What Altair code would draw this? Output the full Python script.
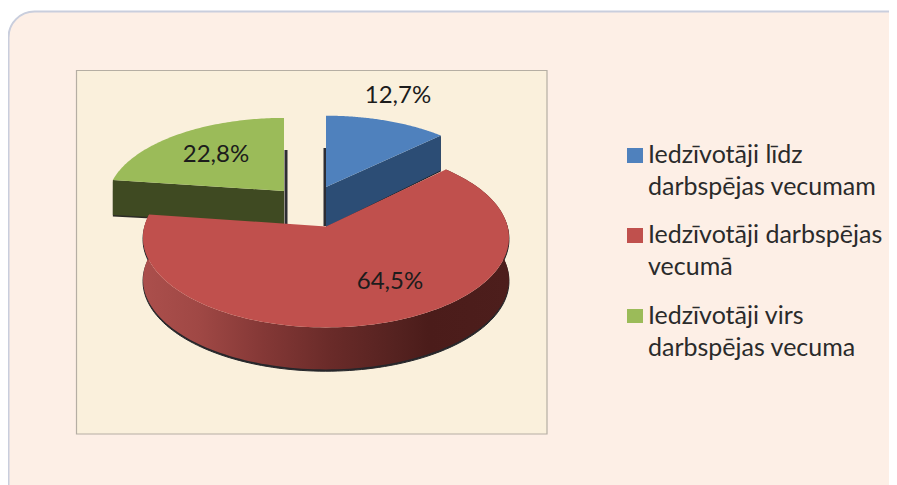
import math
import altair as alt
import pandas as pd

# ---- values ----
categories = ["Iedzīvotāji līdz darbspējas vecumam",
              "Iedzīvotāji darbspējas vecumā",
              "Iedzīvotāji virs darbspējas vecuma"]
shares = [12.7, 64.5, 22.8]
share_labels = ["12,7%", "64,5%", "22,8%"]
top_colors = ["#4f81bd", "#c0504d", "#9bbb59"]
wall_colors = ["#2c4d75", "#4a1c1a", "#3f4a22"]
legend_lines = [["Iedzīvotāji līdz", "darbspējas vecumam"],
                ["Iedzīvotāji darbspējas", "vecumā"],
                ["Iedzīvotāji virs", "darbspējas vecuma"]]

# ---- layout (page pixels) ----
W, H = 881, 477
X_DOM, Y_DOM = [8, 8 + W], [8, 8 + H]
K = 0.122                    # perspective strength of the tilted disc
# apex x, apex y, radius x, radius y, wall thickness
BLUE = (326, 187, 174, 80, 40)
RED = (326, 226.5, 181.6, 88.6, 42)
GREEN = (284, 191, 175.7, 82, 33)

x_s = alt.Scale(domain=X_DOM, range=[0, W])
y_s = alt.Scale(domain=Y_DOM, range=[0, H])
X = lambda f: alt.X(f, type="quantitative", scale=x_s, axis=None)
Y = lambda f: alt.Y(f, type="quantitative", scale=y_s, axis=None)


def rim(geo, a0, a1, n=90):
    ax, ay, rx, ry, _ = geo
    pts = []
    for i in range(n + 1):
        t = math.radians(a0 + (a1 - a0) * i / n)
        u, v = math.sin(t), math.cos(t)
        d = 1 + K * v
        pts.append((ax + rx * u / d, ay - ry * v / d))
    return pts


def poly(points, fill, stroke=None, sw=0):
    df = pd.DataFrame([{"i": i, "x": p[0], "y": p[1]} for i, p in enumerate(points + points[:1])])
    kw = dict(fill=fill, strokeWidth=sw, stroke=stroke if stroke else "transparent", clip=True)
    return alt.Chart(df).mark_line(**kw).encode(x=X("x"), y=Y("y"), order=alt.Order("i:Q"))


def box(x, x2, y, y2, fill, stroke=None, radius=0, sw=1):
    df = pd.DataFrame([{"x": x, "x2": x2, "y": y, "y2": y2}])
    kw = dict(fill=fill, clip=True, cornerRadius=radius)
    if stroke:
        kw.update(stroke=stroke, strokeWidth=sw)
    return alt.Chart(df).mark_rect(**kw).encode(x=X("x"), x2="x2:Q", y=Y("y"), y2="y2:Q")


def shift(pts, dx=0, dy=0):
    return [(p[0] + dx, p[1] + dy) for p in pts]


# slice angles, clockwise from twelve o'clock, from the shares
tot = sum(shares)
a = [0]
for s in shares:
    a.append(a[-1] + 360 * s / tot)

layers = [
    box(8.5, 920, 11.5, 510, "#fdefe6", "#c9cedd", 26, 2),
    box(76.5, 547, 70.5, 434, "#faf0dc", "#b5aea3", 0, 1.2),
]

# green slice
g_rim = rim(GREEN, a[2], a[3])
gx, gy, *_ , gt = GREEN
g_front = [g_rim[0], (gx, gy), (gx, gy + gt), shift(g_rim[:1], 0, gt + 2)[0]]
layers += [
    poly(shift(g_front, 0, 1.6), "#2b2b26"),
    box(284.5, 287.5, 150, 224, "#2d2d33"),
    poly(g_front, wall_colors[2]),
    poly(g_rim + [(gx, gy)], top_colors[2]),
]

# blue slice
b_rim = rim(BLUE, a[0], a[1])
bx, by, *_ , bt = BLUE
b_front = [(bx, by), b_rim[-1], shift(b_rim[-1:], 0, bt - 5)[0], (bx, by + bt)]
layers += [
    box(323.5, 326, 148, 226, "#2d2d33"),
    poly(shift(b_front, 0, 1.0), "#1f1f22"),
    poly(b_front, wall_colors[0]),
    poly(b_rim + [(bx, by)], top_colors[0]),
]

# red slice: wall with horizontal shading, then the top
r_rim = rim(RED, a[1], a[2], 140)
rx_, ry_, *_ , rt = RED
r_wall = r_rim + shift(r_rim, 0, rt)[::-1]
wall_grad = alt.LinearGradient(
    gradient="linear", x1=0, x2=1, y1=0, y2=0,
    stops=[alt.GradientStop(offset=0, color="#ab4f4c"),
           alt.GradientStop(offset=0.15, color="#a04845"),
           alt.GradientStop(offset=0.33, color="#843836"),
           alt.GradientStop(offset=0.51, color="#6a2b29"),
           alt.GradientStop(offset=0.69, color="#552220"),
           alt.GradientStop(offset=0.78, color="#4b1c1a"),
           alt.GradientStop(offset=1, color="#4d1e1c")])
layers += [
    poly(shift(r_wall, 0, 1.8), "#26262a", "#26262a", 1),
    poly(r_wall, wall_grad),
    poly(r_rim + [(rx_, ry_)], top_colors[1]),
]

# share labels
label_df = pd.DataFrame({"t": share_labels, "x": [398, 390, 216], "y": [96, 282, 155]})
layers.append(
    alt.Chart(label_df).mark_text(font="Lato", fontSize=24, color="#1c1c1c", align="center", baseline="middle")
    .encode(x=X("x"), y=Y("y"), text="t:N")
)

# legend
sw_df = pd.DataFrame({"c": categories, "x": [627] * 3, "x2": [643] * 3,
                      "y": [148, 228, 309], "y2": [163, 243, 323]})
layers.append(
    alt.Chart(sw_df).mark_rect().encode(
        x=X("x"), x2="x2:Q", y=Y("y"), y2="y2:Q",
        color=alt.Color("c:N", scale=alt.Scale(domain=categories, range=top_colors), legend=None))
)
rows = []
for lines, base in zip(legend_lines, [163, 243, 324]):
    for j, line in enumerate(lines):
        rows.append({"t": line, "x": 648, "y": base + j * 32})
layers.append(
    alt.Chart(pd.DataFrame(rows)).mark_text(font="Lato", fontSize=25, color="#2b2b2b", align="left", baseline="alphabetic")
    .encode(x=X("x"), y=Y("y"), text="t:N")
)

chart = alt.layer(*layers).properties(
    width=W, height=H, padding=0,
    autosize=alt.AutoSizeParams(type="none"),
    background="white",
).configure_view(stroke=None)

chart.save("out.html", embed_options={"renderer": "svg", "actions": False})
